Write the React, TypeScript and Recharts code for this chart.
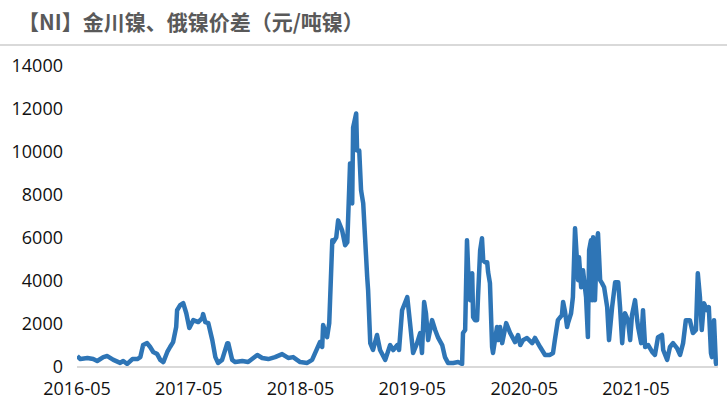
import { LineChart, Line, XAxis, YAxis } from 'recharts'

const title = '【NI】金川镍、俄镍价差（元/吨镍）'

// days since 2016-05-01
const days = [
  1, 11, 34, 53, 66, 86, 99, 119, 141, 151, 164, 181, 197, 207, 216, 229, 239, 249, 262, 272,
  282, 295, 304, 314, 324, 327, 337, 347, 357, 367, 380, 396, 409, 412, 419, 429, 442, 452, 461, 474,
  491, 494, 507, 517, 540, 559, 589, 605, 625, 647, 670, 690, 706, 729, 752, 768, 785, 794, 801, 804,
  817, 824, 834, 837, 847, 853, 866, 876, 883, 889, 892, 899, 902, 912, 915, 922, 928, 935, 941, 948,
  951, 958, 967, 980, 990, 1007, 1023, 1033, 1046, 1052, 1062, 1079, 1088, 1098, 1111, 1121, 1127, 1134, 1140, 1147,
  1160, 1170, 1180, 1193, 1202, 1212, 1229, 1245, 1258, 1261, 1268, 1274, 1278, 1284, 1291, 1294, 1300, 1307, 1310, 1317,
  1323, 1327, 1333, 1340, 1343, 1349, 1356, 1359, 1372, 1376, 1382, 1389, 1402, 1415, 1431, 1441, 1448, 1457, 1470, 1487,
  1496, 1513, 1529, 1545, 1555, 1561, 1571, 1584, 1588, 1594, 1601, 1604, 1614, 1620, 1627, 1637, 1640, 1647, 1653, 1663,
  1669, 1673, 1679, 1683, 1686, 1692, 1699, 1702, 1709, 1715, 1722, 1732, 1738, 1748, 1758, 1768, 1774, 1781, 1784, 1790,
  1800, 1807, 1813, 1823, 1830, 1833, 1843, 1849, 1856, 1866, 1879, 1888, 1898, 1911, 1915, 1928, 1937, 1947, 1960, 1970,
  1980, 1989, 2002, 2012, 2022, 2028, 2035, 2041, 2048, 2058, 2064, 2071, 2074, 2081, 2087, 2090,
]

const spread = [
  510, 370, 420, 370, 280, 460, 510, 330, 190, 280, 140, 370, 370, 460, 1020, 1110, 930, 700, 600, 330,
  230, 700, 930, 1160, 1860, 2640, 2880, 2970, 2500, 1810, 2180, 2090, 2270, 2460, 2090, 2040, 1250, 460, 190, 330,
  1110, 1110, 330, 230, 280, 230, 560, 420, 370, 460, 600, 420, 460, 230, 190, 330, 880, 1160, 930, 1950,
  1390, 2040, 5890, 5800, 6030, 6820, 6360, 5660, 5800, 8210, 9470, 7610, 11140, 11790, 10070, 10070, 8210, 7610, 6030, 4180,
  3570, 1110, 790, 1490, 790, 330, 1020, 790, 1020, 790, 2640, 3250, 2040, 650, 1110, 1580, 650, 3020, 2500, 1250,
  2180, 1720, 1350, 1020, 460, 190, 190, 230, 140, 1580, 1720, 5890, 4500, 3110, 4360, 2320, 2180, 2180, 3250, 5430,
  5990, 4960, 4870, 4870, 4410, 3900, 930, 650, 1860, 1250, 1860, 1110, 2040, 1580, 1160, 1490, 1020, 1250, 1350, 1110,
  1350, 930, 560, 560, 650, 1250, 2180, 2410, 3020, 2600, 1860, 2040, 2500, 3250, 6450, 4040, 5100, 3710, 4500, 3250,
  1390, 5430, 5890, 3110, 6030, 3110, 5890, 6220, 4040, 3900, 3710, 2780, 1250, 2780, 3940, 3940, 2780, 1110, 1720, 2500,
  2180, 1250, 2410, 3110, 2180, 1860, 1110, 2640, 930, 1020, 700, 560, 1390, 1490, 790, 330, 930, 1110, 880, 560,
  1110, 2180, 2180, 1580, 1720, 4360, 3250, 1720, 2970, 2640, 2780, 650, 460, 2180, 190, 50,
]

const tickDays = [0, 365, 730, 1095, 1461, 1826]
const tickLabels = ['2016-05', '2017-05', '2018-05', '2019-05', '2020-05', '2021-05']
const yTicks = [0, 2000, 4000, 6000, 8000, 10000, 12000, 14000]

const data = days.map((d, i) => ({ day: d, spread: spread[i] }))

const tickStyle = { fontSize: 18, fill: '#111', fontFamily: 'Open Sans, sans-serif' }

export default function App() {
  return (
    <div style={{ position: 'fixed', left: 0, top: 0, width: 727, height: 412, background: '#fff' }}>
      <div
        style={{
          position: 'absolute',
          left: 18,
          top: 7,
          fontSize: 21,
          fontWeight: 700,
          color: '#595959',
          fontFamily: '"Noto Sans CJK SC", sans-serif',
          lineHeight: '28px',
          whiteSpace: 'nowrap',
        }}
      >
        {title}
      </div>
      <div style={{ position: 'absolute', left: 0, top: 44, width: 727, height: 2, background: '#d9d9d9' }} />
      <div style={{ position: 'absolute', left: 0, top: 0 }}>
        <LineChart width={727} height={412} data={data} margin={{ top: 66, right: 9, left: 0, bottom: 0 }}>
          <XAxis
            dataKey="day"
            type="number"
            domain={[0, 2094]}
            ticks={tickDays}
            tickFormatter={(v: number) => tickLabels[tickDays.indexOf(v)] ?? ''}
            interval={0}
            height={45}
            tickLine={false}
            tickSize={0}
            tickMargin={15}
            axisLine={{ stroke: '#d9d9d9', strokeWidth: 2 }}
            tick={tickStyle}
            allowDataOverflow
          />
          <YAxis
            type="number"
            domain={[0, 14000]}
            ticks={yTicks}
            interval={0}
            width={77}
            tickLine={false}
            tickSize={0}
            tickMargin={14}
            axisLine={false}
            tick={tickStyle}
          />
          <Line
            type="linear"
            dataKey="spread"
            stroke="#2E75B6"
            strokeWidth={4.5}
            dot={false}
            strokeLinejoin="round"
            isAnimationActive={false}
          />
        </LineChart>
      </div>
    </div>
  )
}
